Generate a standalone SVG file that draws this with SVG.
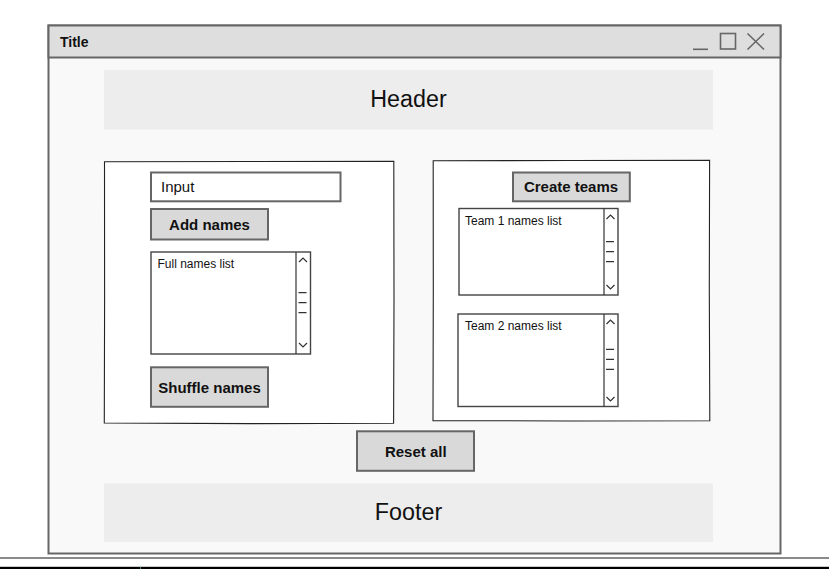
<svg xmlns="http://www.w3.org/2000/svg" width="829" height="569" viewBox="0 0 829 569">
<style>
.win{fill:#f9f9f9;stroke:#666;stroke-width:2}
.bar{fill:#dedede;stroke:#666;stroke-width:2}
.band{fill:#ededed;stroke:none}
.panel{fill:#fff;stroke:#222;stroke-width:1.1}
.btn{fill:#d9d9d9;stroke:#666;stroke-width:2}
.field{fill:#fff;stroke:#666;stroke-width:2}
.list{fill:#fff;stroke:#444;stroke-width:1.4}
.sb{fill:none;stroke:#333;stroke-width:1.2}
.ico{fill:none;stroke:#666;stroke-width:1.6}
.big{font-family:"Liberation Sans",Arial,sans-serif;font-size:23.3px;fill:#111;text-anchor:middle}
.bt{font-family:"Liberation Sans",Arial,sans-serif;font-size:15px;font-weight:bold;fill:#111;text-anchor:middle}
.lt{font-family:"Comic Sans MS","Liberation Sans",sans-serif;font-size:12px;fill:#111}
</style>
<rect x="0" y="0" width="829" height="569" fill="#fff"/>
<g id="window">
<rect class="win" x="48.5" y="25.5" width="732" height="528"/>
<rect class="bar" x="48.5" y="25.5" width="732" height="32"/>
<text x="60" y="47" font-family="Liberation Sans,Arial,sans-serif" font-size="14px" font-weight="bold" fill="#111">Title</text>
<line class="ico" x1="693" y1="49.3" x2="708" y2="49.3"/>
<rect class="ico" x="720.5" y="33.5" width="15" height="15.5"/>
<path class="ico" d="M747.5 33.5 L764 49.5 M764 33.5 L747.5 49.5"/>
</g>
<g id="header">
<rect class="band" x="104" y="70" width="609" height="59.5"/>
<text class="big" x="408.5" y="107.3">Header</text>
</g>
<g id="footer">
<rect class="band" x="104" y="483.3" width="609" height="58.5"/>
<text class="big" x="408.5" y="519.8">Footer</text>
</g>
<g id="left-panel">
<path class="panel" d="M104.5 161.8 L250 161.5 L393.8 161.2 L394 300 L393.6 423.3 L250 423.6 L104.3 423 L104.6 300 Z"/>
</g>
<g id="right-panel">
<path class="panel" d="M433.2 160.8 L570 160.5 L709.6 160.2 L709.3 290 L709.8 420.8 L570 421 L433 420.6 L433.3 290 Z"/>
</g>
<g id="input">
<rect class="field" x="151" y="172.5" width="189.5" height="28.8"/>
<text x="161" y="192.3" font-family="Liberation Sans,Arial,sans-serif" font-size="15px" fill="#111">Input</text>
</g>
<g id="add-names">
<rect class="btn" x="151" y="209" width="117" height="30.5"/>
<text class="bt" x="209.5" y="230">Add names</text>
</g>
<g id="full-list">
<rect class="list" x="151" y="252" width="159.5" height="102"/>
<line class="sb" x1="296" y1="252" x2="296" y2="354"/>
<path class="sb" d="M299 262 L303 258 L307 262 M299 343 L303 347 L307 343 M298.5 292.7 L306.5 292.7 M298.5 302.7 L306.5 302.7 M298.5 312.7 L306.5 312.7"/>
<text class="lt" x="157.5" y="268">Full names list</text>
</g>
<g id="shuffle-names">
<rect class="btn" x="151" y="367.3" width="117" height="39.5"/>
<text class="bt" x="209.5" y="392.5">Shuffle names</text>
</g>
<g id="create-teams">
<rect class="btn" x="513" y="172.5" width="116.8" height="28.8"/>
<text class="bt" x="571" y="192.3">Create teams</text>
</g>
<g id="team1-list">
<rect class="list" x="459" y="208.5" width="159" height="86.5"/>
<line class="sb" x1="604" y1="208.5" x2="604" y2="295"/>
<path class="sb" d="M606.5 219 L610.5 215 L614.5 219 M606.5 285 L610.5 289 L614.5 285 M606 241.7 L614 241.7 M606 251.7 L614 251.7 M606 261.7 L614 261.7"/>
<text class="lt" x="465" y="224.5">Team 1 names list</text>
</g>
<g id="team2-list">
<rect class="list" x="458" y="314" width="160" height="92.5"/>
<line class="sb" x1="604" y1="314" x2="604" y2="406.5"/>
<path class="sb" d="M606.5 324 L610.5 320 L614.5 324 M606.5 397 L610.5 401 L614.5 397 M606 349.3 L614 349.3 M606 359.3 L614 359.3 M606 369.3 L614 369.3"/>
<text class="lt" x="465" y="330">Team 2 names list</text>
</g>
<g id="reset-all">
<rect class="btn" x="357" y="431.3" width="117" height="39.5"/>
<text class="bt" x="415.8" y="456.7">Reset all</text>
</g>
<g id="connectors"></g>
<rect x="0" y="557" width="829" height="2" fill="#8a8a8a"/>
<rect x="0" y="566.8" width="829" height="2.2" fill="#000"/>
<rect x="140" y="566.8" width="1" height="2.2" fill="#4a7a8a"/>
</svg>
